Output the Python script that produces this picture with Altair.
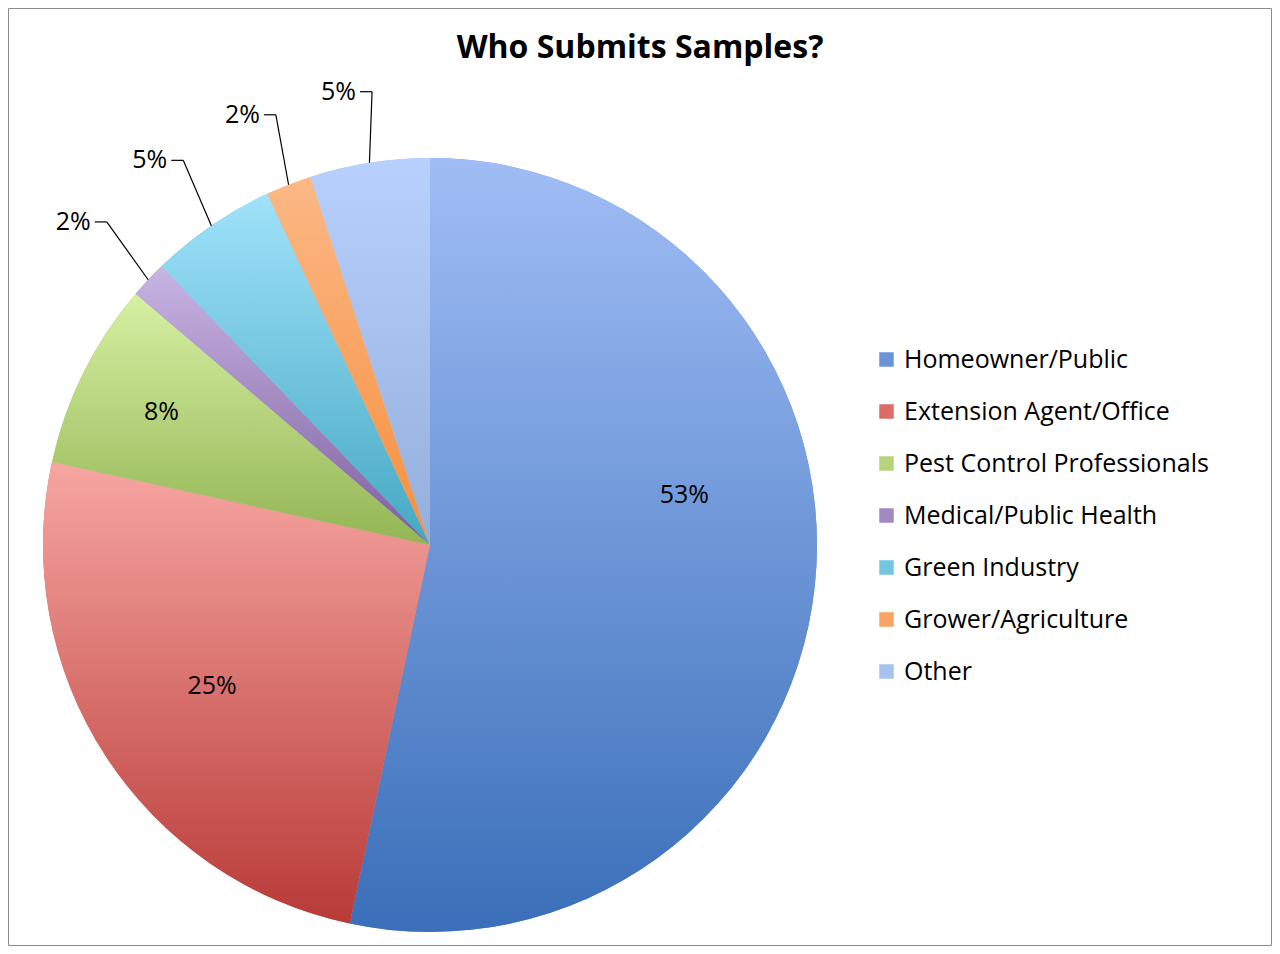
import altair as alt
import pandas as pd

# ---- data ----
categories = ["Homeowner/Public", "Extension Agent/Office", "Pest Control Professionals",
              "Medical/Public Health", "Green Industry", "Grower/Agriculture", "Other"]
shares = [53.3, 25.1, 7.8, 1.55, 5.3, 1.9, 5.0]
title_text = "Who Submits Samples?"

# ---- styles ----
legend_colors = ["#6a93d8", "#dd6b67", "#b5d47c", "#a189c2", "#72c6e0", "#f9a464", "#a8c2f0"]
grad_top = ["#a0bdf5", "#f7a6a2", "#d6f0a3", "#c8b5e3", "#a0e2fa", "#fcb886", "#b8d0fd"]
grad_bottom = ["#3a6fb9", "#b83a37", "#93b554", "#7d5e9e", "#45a8c3", "#f58f3d", "#94afdc"]

W, H = 1263, 937
CX, CY, R = 422, 537, 387
FONT = "Open Sans"

df = pd.DataFrame({"category": categories, "value": shares, "order": list(range(len(categories)))})

base = alt.Chart(df).transform_joinaggregate(
    total="sum(value)"
).transform_window(
    cum="sum(value)", sort=[alt.SortField("order")], frame=[None, 0]
).transform_calculate(
    pct="datum.value / datum.total",
    a0="2*PI*(datum.cum - datum.value)/datum.total",
    a1="2*PI*datum.cum/datum.total",
).transform_calculate(
    mid="(datum.a0 + datum.a1)/2"
)

theta_enc = dict(
    theta=alt.Theta("a0:Q", scale=None, stack=None),
    theta2=alt.Theta2("a1:Q"),
    x=alt.value(CX),
    y=alt.value(CY),
)

pie = base.mark_arc(outerRadius=R, stroke=None).encode(
    color=alt.Color(
        "category:N",
        scale=alt.Scale(domain=categories, range=legend_colors),
        sort=categories,
        legend=alt.Legend(
            title=None, orient="none", legendX=866, legendY=339,
            symbolType="square", symbolSize=210, symbolStrokeWidth=0,
            labelFont=FONT, labelFontSize=25, labelColor="black",
            labelOffset=5, rowPadding=26, labelLimit=400,
        ),
    ),
    **theta_enc,
)

layers = [pie]
for cat, top, bot in zip(categories, grad_top, grad_bottom):
    grad = alt.Gradient(
        gradient="linear",
        stops=[alt.GradientStop(color=top, offset=0), alt.GradientStop(color=bot, offset=1)],
        x1=0, x2=0, y1=0, y2=1,
    )
    layers.append(
        base.transform_filter(alt.datum.category == cat)
        .mark_arc(outerRadius=R, color=grad, stroke=None)
        .encode(**theta_enc)
    )

# inside labels (Excel best-fit style placement)
inside = base.transform_filter("datum.pct >= 0.07").transform_calculate(
    la="datum.pct > 0.5 ? datum.mid - 0.3 : datum.mid",
    lr=f"datum.pct < 0.1 ? {0.775 * R} : {0.67 * R}",
).transform_calculate(
    tx=f"{CX} + datum.lr*sin(datum.la)",
    ty=f"{CY} - datum.lr*cos(datum.la)",
)
inside_text = inside.mark_text(font=FONT, fontSize=25, color="black", baseline="middle").encode(
    x=alt.X("tx:Q", scale=None), y=alt.Y("ty:Q", scale=None),
    text=alt.Text("pct:Q", format=".0%"),
)

# outside labels with leader lines
out = base.transform_filter("datum.pct < 0.07").transform_calculate(
    side="sin(datum.mid) < 0 ? -1 : 1",
    ex=f"{CX} + {R}*sin(datum.mid)",
    ey=f"{CY} - {R}*cos(datum.mid)",
    bx=f"{CX} + {R + 70}*sin(datum.mid + 0.03)",
    by=f"{CY} - {R + 70}*cos(datum.mid + 0.03)",
).transform_calculate(
    hx="datum.bx + 12*datum.side",
).transform_calculate(
    tx="datum.hx + 4*datum.side",
)
lead1 = out.mark_rule(color="black", strokeWidth=1.2).encode(
    x=alt.X("ex:Q", scale=None), y=alt.Y("ey:Q", scale=None), x2="bx:Q", y2="by:Q"
)
lead2 = out.mark_rule(color="black", strokeWidth=1.2).encode(
    x=alt.X("bx:Q", scale=None), y=alt.Y("by:Q", scale=None), x2="hx:Q", y2="by:Q"
)
out_text = out.mark_text(font=FONT, fontSize=25, color="black", align="right", baseline="middle").encode(
    x=alt.X("tx:Q", scale=None), y=alt.Y("by:Q", scale=None),
    text=alt.Text("pct:Q", format=".0%"),
)

title = alt.Chart(pd.DataFrame({"t": [title_text]})).mark_text(
    font=FONT, fontSize=32, fontWeight="bold", color="black", baseline="middle"
).encode(x=alt.value(632), y=alt.value(40), text="t:N")

chart = alt.layer(*layers, inside_text, lead1, lead2, out_text, title).properties(
    width=W, height=H,
    padding={"left": 0, "top": 0, "right": 1, "bottom": 1},
    autosize="none", background="white",
).configure_view(stroke="#8c8c8c", strokeWidth=1)

chart.save("out.html", embed_options={"renderer": "svg", "actions": False})
